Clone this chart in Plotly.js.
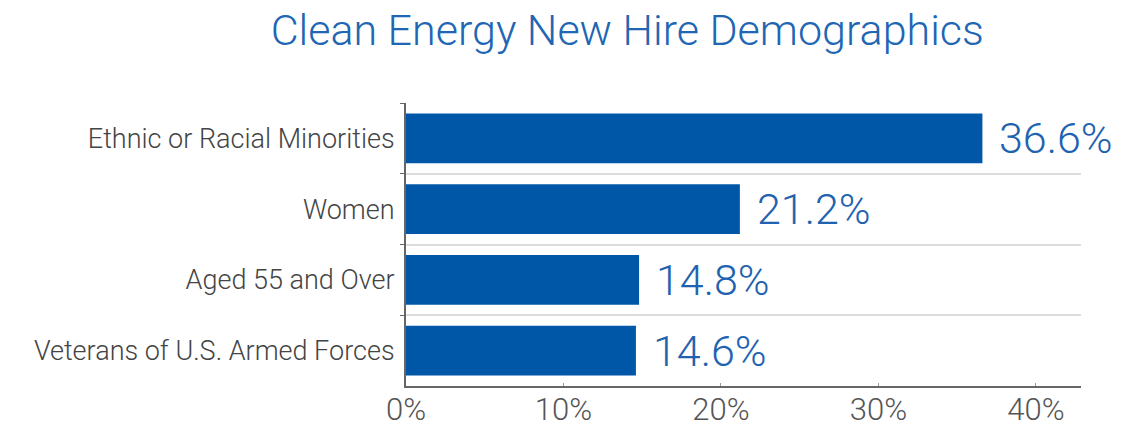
<!DOCTYPE html>
<html>
<head>
<meta charset="utf-8">
<script src="https://cdn.plot.ly/plotly-3.0.1.min.js"></script>
<style>
  html, body { margin: 0; padding: 0; background: #fff; }
  #chart { width: 1122px; height: 430px; }
</style>
</head>
<body>
<div id="chart"></div>
<script>
const categories = [
  "Ethnic or Racial Minorities",
  "Women",
  "Aged 55 and Over",
  "Veterans of U.S. Armed Forces"
];
const values = [36.6, 21.2, 14.8, 14.6];
const tickValues = [0, 10, 20, 30, 40];
const tickLabels = ["0%", "10%", "20%", "30%", "40%"];

const FONT = "Roboto, 'Liberation Sans', Arial, sans-serif";
const BLUE = "#0057a8";
const TEXT_BLUE = "#1f63b0";

const trace = {
  type: "bar",
  orientation: "h",
  x: values,
  y: categories,
  marker: { color: BLUE },
  width: 0.7,
  hoverinfo: "skip"
};

const annotations = values.map((v, i) => ({
  x: v,
  y: categories[i],
  xref: "x",
  yref: "y",
  text: v.toFixed(1) + "%",
  showarrow: false,
  xanchor: "left",
  yanchor: "middle",
  xshift: 15,
  font: { family: FONT, size: 43, color: TEXT_BLUE, weight: 300 }
}));

const layout = {
  width: 1122,
  height: 430,
  margin: { l: 406, r: 41, t: 103, b: 44, pad: 0 },
  paper_bgcolor: "#fff",
  plot_bgcolor: "#fff",
  showlegend: false,
  title: {
    text: "Clean Energy New Hire Demographics",
    x: 0.559,
    xanchor: "center",
    xref: "container",
    y: 0.93,
    yanchor: "middle",
    yref: "container",
    font: { family: FONT, size: 43, color: "#2166b3", weight: 300 }
  },
  xaxis: {
    range: [0, 42.86],
    tickvals: tickValues,
    ticktext: tickLabels,
    showgrid: false,
    zeroline: false,
    showline: true,
    linecolor: "#666",
    linewidth: 2,
    ticks: "inside",
    ticklen: 3,
    tickcolor: "#999",
    ticklabelstandoff: -5,
    tickfont: { family: FONT, size: 31, color: "#555", weight: 300 },
    fixedrange: true
  },
  yaxis: {
    type: "category",
    autorange: "reversed",
    tickson: "boundaries",
    showgrid: true,
    gridcolor: "#dcdcdc",
    gridwidth: 2,
    zeroline: false,
    showline: true,
    linecolor: "#666",
    linewidth: 2,
    ticks: "outside",
    ticklen: 4,
    tickcolor: "#666",
    ticklabelstandoff: 4,
    tickfont: { family: FONT, size: 27, color: "#444", weight: 300 },
    fixedrange: true
  },
  annotations: annotations
};

Plotly.newPlot("chart", [trace], layout, { displayModeBar: false, staticPlot: true });
</script>
</body>
</html>
